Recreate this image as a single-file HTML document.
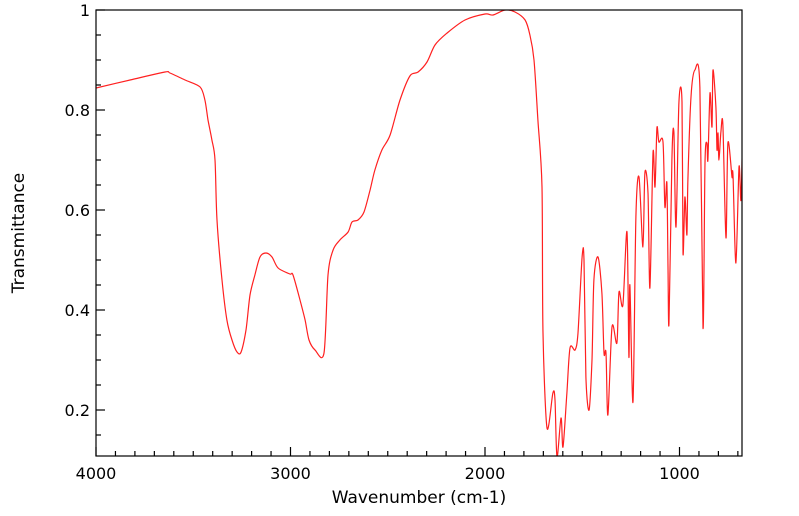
<!DOCTYPE html>
<html><head><meta charset="utf-8"><style>
html,body{margin:0;padding:0;background:#fff;}
svg{display:block;font-family:"DejaVu Sans","Liberation Sans",sans-serif;}
</style></head><body>
<svg id="chart" width="799" height="516" viewBox="0 0 799 516" xmlns="http://www.w3.org/2000/svg">
<defs><clipPath id="clip"><rect x="96" y="10" width="646" height="446"/></clipPath></defs>
<g id="ticks"></g>
<path id="spectrum" fill="none" stroke="#ff2020" stroke-width="1.2" stroke-linejoin="round" clip-path="url(#clip)"/>
<rect x="96" y="10" width="646" height="446" fill="none" stroke="#000" stroke-width="1.2"/>
<text x="419" y="503" font-size="17" text-anchor="middle">Wavenumber (cm-1)</text>
<text transform="translate(24,233) rotate(-90)" font-size="17" text-anchor="middle">Transmittance</text>
</svg>
<script>
const wavenumbers=[4000,3825,3645,3620,3542,3465,3440,3424,3404,3388,3378,3352,3327,3301,3275,3254,3229,3208,3183,3157,3126,3095,3064,3003,2987,2951,2925,2905,2874,2828,2807,2781,2746,2704,2684,2653,2622,2591,2566,2530,2488,2437,2386,2344,2298,2257,2195,2103,2000,1959,1897,1846,1794,1769,
1748,1728,1707,1702,1681,1651,1640,1630,1609,1599,1579,1563,1537,1522,1501,1491,1481,1465,1450,1440,1419,1399,1388,1378,1368,1347,1322,1311,1291,1270,1260,1255,1239,1224,1208,1188,1178,1162,1152,1136,1126,1116,1106,1085,1075,1065,1059,1054,1039,1029,1018,1003,987,982,972,962,957,941,921,895,879,869,859,854,843,833,828,813,807,802,797,787,777,761,751,730,725,710,694,684,674];
const transmittance=[.844,.86,.876,.874,.86,.846,.82,.78,.74,.70,.58,.46,.38,.34,.316,.316,.36,.43,.47,.506,.514,.506,.484,.472,.47,.42,.38,.34,.32,.314,.47,.52,.54,.556,.576,.58,.596,.64,.68,.72,.75,.82,.868,.876,.896,.93,.954,.98,.992,.99,1.0,.996,.98,.95,
.90,.78,.646,.354,.164,.234,.22,.106,.184,.126,.234,.324,.32,.354,.506,.50,.266,.20,.30,.46,.506,.434,.314,.314,.19,.366,.334,.436,.41,.556,.306,.45,.216,.586,.666,.526,.674,.634,.444,.714,.646,.764,.736,.736,.606,.654,.486,.374,.70,.756,.566,.814,.816,.514,.626,.55,.66,.826,.88,.844,.364,.694,.734,.70,.834,.766,.88,.806,.72,.754,.70,.756,.77,.544,.734,.666,.67,.494,.686,.62,.78];
const xTickLabels=["4000","3000","2000","1000"];
const yTickLabels=["0.2","0.4","0.6","0.8","1"];

const X0=96,X1=742,Y0=10,Y1=456;
const xScale=w=>X0+(4000-w)*0.1945;
const yScale=t=>Y0+(1-t)*500;
const NS='http://www.w3.org/2000/svg';
const g=document.getElementById('ticks');
function line(x1,y1,x2,y2,name){const l=document.createElementNS(NS,'line');
l.setAttribute('x1',x1);l.setAttribute('y1',y1);l.setAttribute('x2',x2);l.setAttribute('y2',y2);
l.setAttribute('stroke','#000');l.setAttribute('stroke-width','1.2');


g.appendChild(l);}
function text(x,y,s,anchor,name){const t=document.createElementNS(NS,'text');
t.setAttribute('x',x);t.setAttribute('y',y);t.setAttribute('font-size','16');t.setAttribute('text-anchor',anchor);t.textContent=s;


g.appendChild(t);}
for(let w=4000;w>=700;w-=100){const x=xScale(w);if(x>X1)break;const major=w%1000===0;line(x,Y1,x,Y1-(major?9:5),major?'x-major-tick':'x-minor-tick');}
xTickLabels.forEach(s=>text(xScale(+s),Y1+23,s,'middle','x-tick-label'));
for(let i=0;i<=18;i++){const t=0.1+i*0.05;const y=yScale(t);if(y>Y1)continue;const major=Math.abs(t*10-Math.round(t*10))<1e-6&&Math.round(t*10)%2===0;line(X0,y,X0+(major?9:5),y,major?'y-major-tick':'y-minor-tick');}
yTickLabels.forEach(s=>text(X0-6,yScale(+s)+6,s,'end','y-tick-label'));
const pts=wavenumbers.map((w,i)=>[xScale(w),yScale(transmittance[i])]);
let d='M'+pts[0][0].toFixed(1)+','+pts[0][1].toFixed(1);
for(let i=0;i<pts.length-1;i++){
  const p0=pts[Math.max(0,i-1)],p1=pts[i],p2=pts[i+1],p3=pts[Math.min(pts.length-1,i+2)];
  const k=0.15;
  const c1=[p1[0]+(p2[0]-p0[0])*k,p1[1]+(p2[1]-p0[1])*k];
  const c2=[p2[0]-(p3[0]-p1[0])*k,p2[1]-(p3[1]-p1[1])*k];
  d+=' C'+c1[0].toFixed(1)+','+c1[1].toFixed(1)+' '+c2[0].toFixed(1)+','+c2[1].toFixed(1)+' '+p2[0].toFixed(1)+','+p2[1].toFixed(1);
}
document.getElementById('spectrum').setAttribute('d',d);
</script>
</body></html>
